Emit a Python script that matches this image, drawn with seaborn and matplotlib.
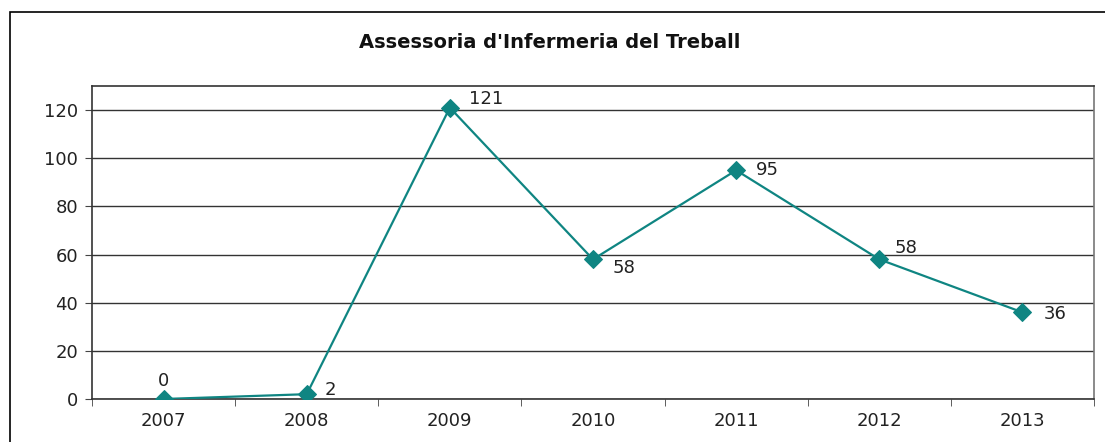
import numpy as np
import pandas as pd
import matplotlib
matplotlib.use("Agg")
import matplotlib.pyplot as plt
import seaborn as sns
from matplotlib.patches import Rectangle

# chart data
years = ['2007', '2008', '2009', '2010', '2011', '2012', '2013']
values = [0, 2, 121, 58, 95, 58, 36]
title = "Assessoria d'Infermeria del Treball"

df = pd.DataFrame({'year': years, 'value': values})
df['pos'] = np.arange(len(years))

sns.set_style('white')
plt.rcParams['font.family'] = ['DejaVu Sans']

teal = '#0f8582'
fig = plt.figure(figsize=(11.05, 4.42), dpi=100)
ax = fig.add_axes([92 / 1105, 1 - 399 / 442, (1094 - 92) / 1105, (399 - 86) / 442])

sns.lineplot(data=df, x='pos', y='value', ax=ax, color=teal, lw=1.6,
             marker='D', markersize=9.5, markeredgecolor=teal, zorder=3)

# data labels, roughly where excel put them
offsets = [(0, 13), (13, 3), (14, 6), (14, -6), (14, 0), (11, 8), (15, -1)]
for (dx, dy), p, v in zip(offsets, df['pos'], df['value']):
    ha = 'center' if dx == 0 else 'left'
    ax.annotate(str(v), (p, v), xytext=(dx, dy), textcoords='offset points',
                ha=ha, va='center', fontsize=13, color='#222222')

ax.set_xlim(-0.5, len(years) - 0.5)
ax.set_ylim(0, 130)
ax.set_yticks(range(0, 121, 20))
ax.set_xticks(df['pos'])
ax.set_xticklabels(years)
ax.set_xticks(np.arange(-0.5, len(years), 1), minor=True)
ax.tick_params(axis='x', which='major', length=0, pad=9, labelsize=13, colors='#222222')
ax.tick_params(axis='x', which='minor', length=5, direction='out', color='#444444', bottom=True)
ax.tick_params(axis='y', length=5, direction='out', left=True, pad=5, labelsize=13,
               colors='#222222', color='#444444')
ax.grid(axis='y', color='#333333', lw=1)
ax.set_axisbelow(True)
for side in ['top', 'left', 'bottom']:
    ax.spines[side].set_color('#333333')
ax.spines['right'].set_color('#777777')
for s in ax.spines.values():
    s.set_linewidth(1.2)
ax.set_xlabel('')
ax.set_ylabel('')

fig.text(549.5 / 1105, 1 - 43 / 442, title, ha='center', va='center',
         fontsize=14, fontweight='bold', color='#111111')

# outer chart frame
fig.add_artist(Rectangle((10 / 1105, -0.1), 1.2, 1.1 - 12 / 442, transform=fig.transFigure,
                         fill=False, edgecolor='black', lw=1.2))

fig.savefig('out.png', dpi=100)
